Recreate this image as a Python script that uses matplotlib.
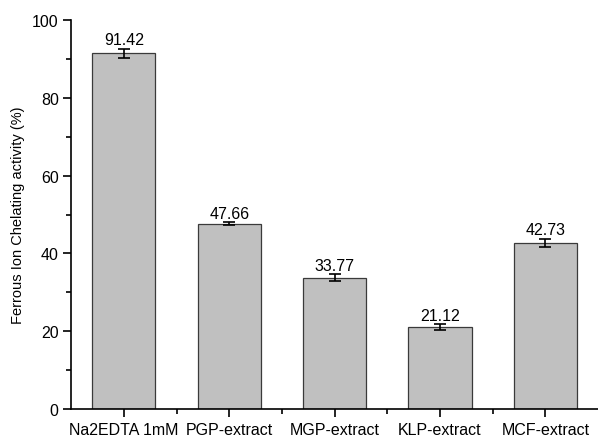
import numpy as np
import matplotlib.pyplot as plt
from matplotlib.ticker import MultipleLocator, FixedLocator

plt.rcParams['font.family'] = ['Liberation Sans', 'DejaVu Sans']

samples = ["Na2EDTA 1mM", "PGP-extract", "MGP-extract", "KLP-extract", "MCF-extract"]
activity = [91.42, 47.66, 33.77, 21.12, 42.73]
errors = [1.2, 0.4, 0.9, 0.7, 1.0]
labels = ["91.42", "47.66", "33.77", "21.12", "42.73"]

fig = plt.figure(figsize=(5.98, 4.39), dpi=100)
ax = fig.add_axes([0.119, 0.066, 0.881, 0.886])

x = np.arange(len(samples))
ax.bar(x, activity, width=0.6, color="#c0c0c0", edgecolor="#3a3a3a", linewidth=0.9, zorder=2)
ax.errorbar(x, activity, yerr=errors, fmt="none", ecolor="k", elinewidth=1.2,
            capsize=4, capthick=1.2, zorder=3)
for xi, v, e, t in zip(x, activity, errors, labels):
    ax.text(xi, v + e + 0.4, t, ha="center", va="bottom", fontsize=11.5)

ax.set_xlim(-0.5, 4.5)
ax.set_ylim(0, 100)
ax.set_xticks(x)
ax.set_xticklabels(samples, fontsize=11.5)
ax.xaxis.set_minor_locator(FixedLocator(x[:-1] + 0.5))
ax.yaxis.set_major_locator(MultipleLocator(20))
ax.yaxis.set_minor_locator(MultipleLocator(10))
ax.tick_params(axis="both", which="major", direction="out", length=6, width=1.2, labelsize=11.5, pad=3)
ax.tick_params(axis="both", which="minor", direction="out", length=3.5, width=1.2)
ax.set_ylabel("Ferrous Ion Chelating activity (%)", fontsize=10.5, labelpad=5)
for s in ["top", "right"]:
    ax.spines[s].set_visible(False)
for s in ["left", "bottom"]:
    ax.spines[s].set_linewidth(1.2)

fig.savefig("out.png", dpi=100)
